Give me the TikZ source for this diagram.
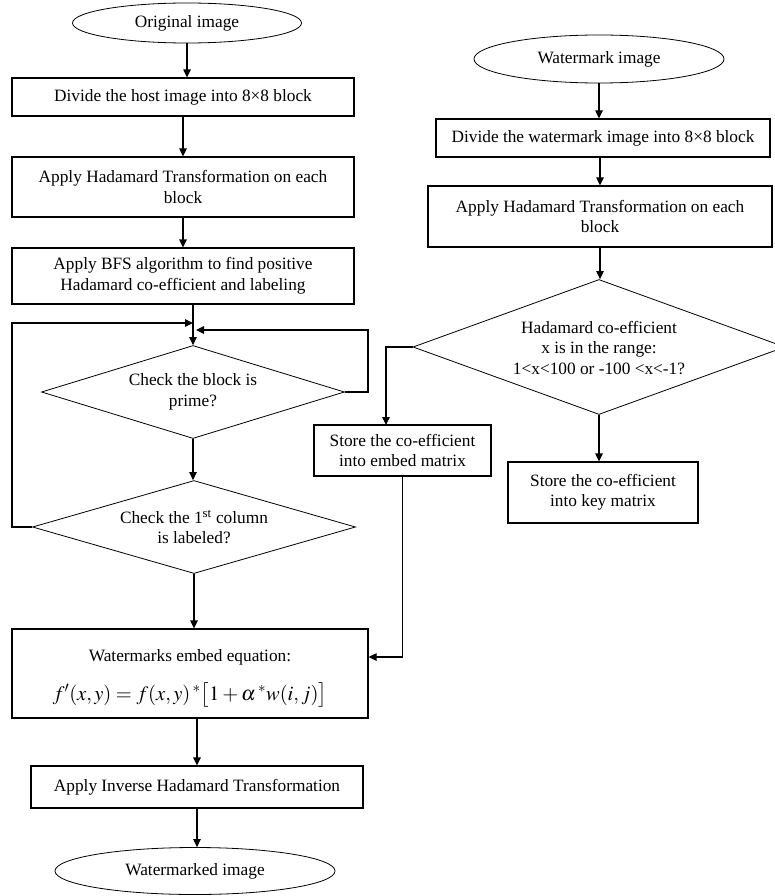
\documentclass[tikz,border=0pt]{standalone}
\usepackage{mathptmx}
\usepackage{fontspec}
\setmainfont{Liberation Serif}
\usetikzlibrary{shapes.geometric,arrows.meta,calc}
\begin{document}
\begin{tikzpicture}[x=1pt,y=-1pt,
  font=\fontsize{17.3}{20.5}\selectfont,
  box/.style={draw, line width=1.2pt, inner sep=0pt, align=center},
  oval/.style={draw, ellipse, line width=0.8pt, inner sep=0pt},
  dia/.style={draw, diamond, line width=0.8pt, inner sep=0pt},
  txt/.style={align=center, inner sep=0pt},
  arr/.style={line width=1.2pt, -{Triangle[length=8pt,width=7.5pt]}},
  ln/.style={line width=1.2pt}]
\useasboundingbox (0,0) rectangle (774,896);

% left column
\node[oval, minimum width=229pt, minimum height=40pt] (orig) at (187,23) {Original image};
\node[box, minimum width=342pt, minimum height=38pt] (b1) at (183,97) {Divide the host image into 8×8 block};
\node[box, minimum width=342pt, minimum height=60pt] (b2) at (183,187) {Apply Hadamard Transformation on each\\block};
\node[box, minimum width=342pt, minimum height=56pt] (b3) at (183,276) {Apply BFS algorithm to find positive\\Hadamard co-efficient and labeling};
\node[dia, minimum width=303pt, minimum height=93pt] (d1) at (193,392) {};
\node[txt] (d1t) at (193,392) {Check the block is\\prime?};
\node[dia, minimum width=323pt, minimum height=93pt] (d2) at (194,527) {};
\node[txt] (d2t) at (194,527) {Check the 1\textsuperscript{st} column\\is labeled?};
\node[box, minimum width=356pt, minimum height=89pt] (emb) at (190,673.5) {};
\node[txt] (embt) at (190,657) {Watermarks embed equation:};
\node[txt] (embf) at (190,695) {\fontsize{20.5}{24}\selectfont$f'(x,y) = f(x,y)\,{}^{*}\bigl[1+\alpha\,{}^{*}w(i,j)\bigr]$};
\node[box, minimum width=332pt, minimum height=42pt] (inv) at (197,787) {Apply Inverse Hadamard Transformation};
\node[oval, minimum width=280pt, minimum height=47pt] (out) at (195,871) {Watermarked image};

% right column
\node[oval, minimum width=250pt, minimum height=48pt] (wm) at (599,59) {Watermark image};
\node[box, minimum width=334pt, minimum height=38pt] (r1) at (603,138) {Divide the watermark image into 8×8 block};
\node[box, minimum width=344pt, minimum height=61pt] (r2) at (600,216.5) {Apply Hadamard Transformation on each\\block};
\node[dia, minimum width=372pt, minimum height=135pt] (d3) at (599,347) {};
\node[txt] (d3t) at (599,348) {Hadamard co-efficient\\x is in the range:\\1<x<100 or -100 <x<-1?};
\node[box, minimum width=177pt, minimum height=51pt] (se) at (402.5,450.5) {Store the co-efficient\\into embed matrix};
\node[box, minimum width=190pt, minimum height=61pt] (sk) at (603,492.5) {Store the co-efficient\\into key matrix};

% helper coordinates
\coordinate (jl) at (12,323);
\coordinate (jr) at (368,330);
\coordinate (se-in) at (386,425);

% left connectors
\draw[arr] (orig.south) -- (orig.south |- b1.north);
\draw[arr] (b1.south) -- (b1.south |- b2.north);
\draw[arr] (b2.south) -- (b2.south |- b3.north);
\draw[arr] (d1.north |- b3.south) -- (d1.north);
\draw[arr] (d2.west) -| (jl) -- (jl -| d1.north);
\draw[arr] (d1.east) -| (jr) -- ([xshift=3pt]jr -| d1.north);
\draw[arr] (d1.south) -- (d1.south |- d2.north);
\draw[arr] (d2.south) -- (d2.south |- emb.north);
\draw[arr] (inv.north |- emb.south) -- (inv.north);
\draw[arr] (inv.south) -- (inv.south |- out.north);

% right connectors
\draw[arr] (wm.south) -- (wm.south |- r1.north);
\draw[arr] (r1.south -| r2.north) -- (r2.north);
\draw[arr] (r2.south) -- (r2.south |- d3.north);
\draw[arr] (d3.west) -| (se-in);
\draw[arr] (d3.south) -- (d3.south |- sk.north);
\draw[arr] (se.south) |- ([yshift=16.5pt]emb.east);
\end{tikzpicture}
\end{document}
